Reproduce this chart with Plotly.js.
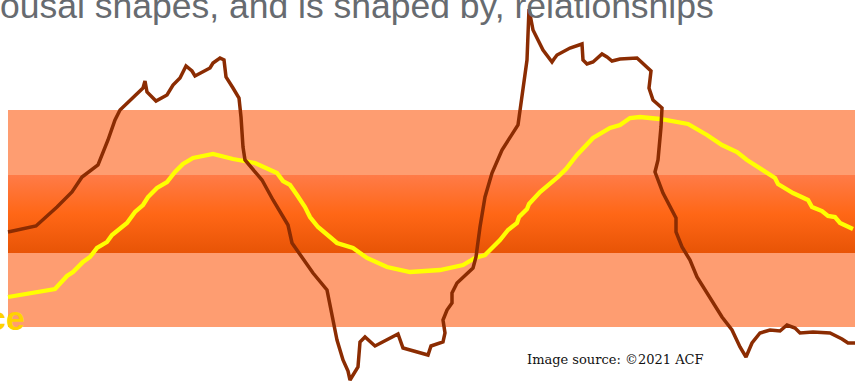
<!DOCTYPE html>
<html>
<head>
<meta charset="utf-8">
<script src="https://cdn.plot.ly/plotly-3.0.1.min.js"></script>
<style>html,body{margin:0;padding:0;background:#fff;}#chart{width:855px;height:383px;}</style>
</head>
<body>
<div id="chart"></div>
<script>
// Time positions and arousal levels
const stressTime = [8,36,57,72,82,98,108,115,120,130,138,143,145,147,156,167,173,180,186,192,195,210,213,220,224,226,233,239,241,243,245,252,262,273,288,292,302,313,327,332,337,343,348,350,353,358,360,365,375,398,403,413,428,431,443,445,443,447,452,452,457,473,476,480,485,492,502,518,520,527,529,533,543,552,554,557,570,582,583,587,593,602,607,612,620,637,651,649,653,662,661,658,655,663,676,676,682,690,697,710,722,732,740,746,752,760,770,780,787,795,800,813,830,842,848,855];
const stressLevel = [151,157,176,191,206,218,243,263,273,283,290,295,302,291,282,288,298,305,317,312,307,315,320,325,323,306,295,285,266,236,223,215,203,183,158,140,126,110,93,70,43,23,12,3,8,16,41,46,37,49,35,32,28,37,41,50,63,73,80,90,100,115,126,156,186,210,233,258,273,323,374,353,333,321,324,328,335,339,323,319,321,329,326,322,324,325,312,295,283,275,256,223,211,190,165,151,136,123,106,86,66,53,36,26,40,50,53,52,58,55,50,51,50,44,40,40];

const calmTime = [8,55,67,73,83,90,97,107,112,118,127,135,143,148,157,167,175,183,193,213,233,255,277,283,290,297,305,310,318,330,337,353,367,387,410,440,463,475,485,492,500,508,517,519,527,529,540,558,566,577,593,610,620,630,640,660,688,707,722,737,747,775,778,793,808,812,822,828,835,840,853];
const calmLevel = [86,94,107,111,121,126,135,141,148,153,160,171,178,186,195,201,211,219,225,229,224,220,210,202,198,188,176,166,156,146,140,135,125,116,111,113,118,125,128,135,143,153,160,166,174,179,191,206,214,228,245,255,258,265,266,264,259,248,238,231,223,205,199,190,183,176,172,167,166,160,154];

// Zones
const outerZone = [56, 273];   // light band (low / high edges)
const innerZone = [130, 208];  // window band
const zoneStart = 8, zoneEnd = 855;

const titleText = "ousal shapes, and is shaped by, relationships";
const zoneLabel = "ce";
const sourceText = "Image source: ©2021 ACF";

const traces = [
  {
    x: [zoneStart, zoneEnd, zoneEnd, zoneStart, zoneStart],
    y: [innerZone[0], innerZone[0], innerZone[1], innerZone[1], innerZone[0]],
    mode: 'lines', fill: 'toself', line: {width: 0},
    fillgradient: {type: 'vertical', start: innerZone[0], stop: innerZone[1],
      colorscale: [[0, '#E85406'], [0.5, '#FF6716'], [1, '#FF7B48']]},
    hoverinfo: 'skip', showlegend: false
  },
  {
    x: calmTime, y: calmLevel, mode: 'lines',
    line: {color: '#FFFF00', width: 4.3, shape: 'linear'},
    showlegend: false
  },
  {
    x: stressTime, y: stressLevel, mode: 'lines',
    line: {color: '#8B2C02', width: 3.5, shape: 'linear'},
    showlegend: false
  }
];

const layout = {
  width: 855, height: 383,
  margin: {l: 0, r: 0, t: 0, b: 0, pad: 0},
  paper_bgcolor: '#ffffff', plot_bgcolor: '#ffffff',
  xaxis: {range: [0, 855], visible: false, fixedrange: true},
  yaxis: {range: [0, 383], visible: false, fixedrange: true},
  showlegend: false,
  shapes: [
    {type: 'rect', layer: 'below', xref: 'x', yref: 'y', x0: zoneStart, x1: zoneEnd,
     y0: outerZone[0], y1: outerZone[1], fillcolor: '#FE9D71', line: {width: 0}}
  ],
  annotations: [
    {xref: 'x', yref: 'y', x: 716, y: 377, xanchor: 'right', yanchor: 'middle',
     text: titleText, showarrow: false,
     font: {family: 'Liberation Sans, Arial, sans-serif', size: 35.5, color: '#676B70'}},
    {xref: 'x', yref: 'y', x: 27, y: 65, xanchor: 'right', yanchor: 'middle',
     text: '<b>' + zoneLabel + '</b>', showarrow: false,
     font: {family: 'Liberation Sans, Arial, sans-serif', size: 34, color: '#FFD200'}},
    {xref: 'x', yref: 'y', x: 525, y: 24, xanchor: 'left', yanchor: 'middle',
     text: sourceText, showarrow: false,
     font: {family: 'DejaVu Serif, serif', size: 13, color: '#111111'}}
  ]
};

Plotly.newPlot('chart', traces, layout, {displayModeBar: false, staticPlot: true});
</script>
</body>
</html>
